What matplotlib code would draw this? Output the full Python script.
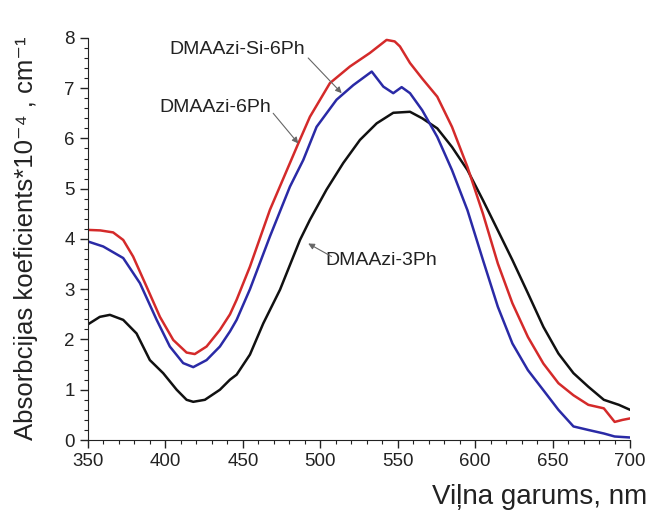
import matplotlib
matplotlib.use("Agg")
import matplotlib.pyplot as plt
from matplotlib.ticker import MultipleLocator

plt.rcParams['font.family'] = ['Liberation Sans', 'DejaVu Sans']

# DMAAzi-3Ph (black)
x_3ph = [350, 357.7, 364.2, 372.8, 381.4, 390, 398.6, 407.3, 413.7, 418, 425.5, 435.2, 441.7, 446, 454.6,
         463.2, 474, 486.9, 493.3, 504, 514.8, 525.6, 536.4, 547.1, 557.9, 565.8, 575.5, 585, 595, 605,
         614.6, 624, 634, 644, 653.7, 663.4, 673, 683, 692.7, 700]
y_3ph = [2.3, 2.45, 2.49, 2.39, 2.12, 1.59, 1.33, 1.0, 0.8, 0.76, 0.8, 1.0, 1.2, 1.3, 1.7,
         2.32, 2.99, 3.98, 4.38, 4.98, 5.51, 5.97, 6.30, 6.51, 6.53, 6.4, 6.2, 5.83, 5.37, 4.77,
         4.17, 3.58, 2.92, 2.25, 1.72, 1.33, 1.06, 0.8, 0.7, 0.6]

# DMAAzi-Si-6Ph (red)
x_si6ph = [350, 358, 366.3, 372.8, 379.2, 387.9, 396.5, 405.1, 413.7, 419, 426.6, 435.2, 441.7, 446, 454.6,
           467.5, 480.4, 485.8, 493.3, 506.2, 519.1, 532, 542.8, 548, 551.4, 557.9, 565.8, 575.5, 585,
           595, 605, 614.6, 624, 634, 644, 653.7, 663.4, 673, 683, 690, 695, 700]
y_si6ph = [4.18, 4.17, 4.13, 3.98, 3.65, 3.05, 2.45, 1.99, 1.74, 1.71, 1.86, 2.19, 2.5, 2.79, 3.45,
           4.58, 5.51, 5.9, 6.43, 7.10, 7.43, 7.70, 7.96, 7.93, 7.83, 7.5, 7.19, 6.83, 6.23,
           5.43, 4.5, 3.51, 2.72, 2.05, 1.52, 1.13, 0.89, 0.70, 0.63, 0.36, 0.40, 0.43]

# DMAAzi-6Ph (blue)
x_6ph = [350, 359.9, 372.8, 383.6, 394.4, 402.9, 411.5, 418, 426.6, 435.2, 441.7, 446, 454.6, 467.5,
         480.4, 489, 497.6, 510.5, 521.3, 533.2, 540.7, 547.1, 552.5, 557.9, 565.8, 575.5, 585, 595,
         605, 614.6, 624, 634, 644, 653.7, 663.4, 673, 683, 690, 700]
y_6ph = [3.95, 3.85, 3.62, 3.12, 2.39, 1.86, 1.53, 1.45, 1.59, 1.86, 2.16, 2.39, 3.0, 4.05,
         5.04, 5.57, 6.23, 6.77, 7.06, 7.33, 7.03, 6.9, 7.02, 6.9, 6.56, 6.03, 5.37, 4.57,
         3.58, 2.65, 1.92, 1.39, 0.99, 0.60, 0.27, 0.20, 0.13, 0.07, 0.05]

labels = ['DMAAzi-Si-6Ph', 'DMAAzi-6Ph', 'DMAAzi-3Ph']

fig = plt.figure(figsize=(6.51, 5.12), dpi=100)
ax = fig.add_axes([0.135, 0.1406, 0.833, 0.7854])

ax.plot(x_3ph, y_3ph, color='#111111', lw=1.8)
ax.plot(x_si6ph, y_si6ph, color='#d42a2a', lw=1.8)
ax.plot(x_6ph, y_6ph, color='#2a2aa6', lw=1.8)

ax.set_xlim(350, 700)
ax.set_ylim(0, 8)
ax.xaxis.set_major_locator(MultipleLocator(50))
ax.xaxis.set_minor_locator(MultipleLocator(10))
ax.yaxis.set_major_locator(MultipleLocator(1))
ax.yaxis.set_minor_locator(MultipleLocator(0.2))
ax.tick_params(which='major', direction='out', length=6, width=1, labelsize=13.5, colors='#222222')
ax.tick_params(which='minor', direction='out', length=3, width=0.8, colors='#222222')
for s in ['top', 'right']:
    ax.spines[s].set_visible(False)
for s in ['left', 'bottom']:
    ax.spines[s].set_color('#222222')

arrow = dict(arrowstyle='-|>', color='#666666', lw=0.8, mutation_scale=9, shrinkA=0, shrinkB=0)
txt = dict(fontsize=14, color='#222222', ha='center', va='center')
ax.text(446.2, 7.76, labels[0], **txt)
ax.annotate('', xy=(513.8, 6.9), xytext=(492.2, 7.6), arrowprops=arrow)
ax.text(432.3, 6.61, labels[1], **txt)
ax.annotate('', xy=(485.8, 5.9), xytext=(469.6, 6.5), arrowprops=arrow)
ax.text(539.5, 3.58, labels[2], **txt)
ax.annotate('', xy=(492.2, 3.91), xytext=(507.3, 3.65), arrowprops=arrow)

fig.text(0.04, 0.535, 'Absorbcijas koeficients*10⁻⁴ , cm⁻¹', rotation=90,
         ha='center', va='center', fontsize=18.5, color='#222222')
fig.text(0.995, 0.029, 'Viļna garums, nm', ha='right', va='center', fontsize=20, color='#222222')

fig.savefig('out.png', dpi=100)
